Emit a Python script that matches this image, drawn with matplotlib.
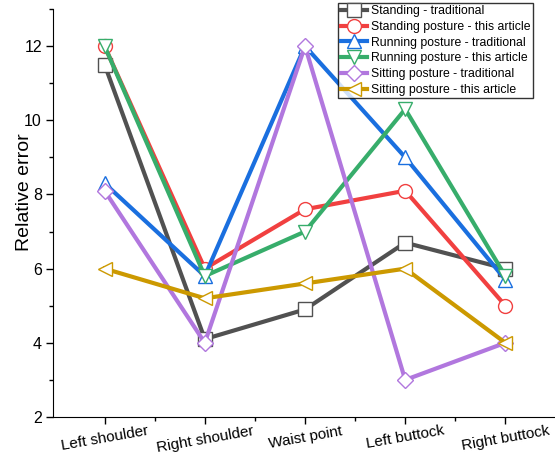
import matplotlib
matplotlib.use("Agg")
import matplotlib.pyplot as plt
from matplotlib.ticker import MultipleLocator, FixedLocator

plt.rcParams['font.family'] = ['Liberation Sans', 'DejaVu Sans']

categories = ["Left shoulder", "Right shoulder", "Waist point", "Left buttock", "Right buttock"]

standing_trad = [11.5, 4.1, 4.9, 6.7, 6.0]
standing_new = [12.0, 6.0, 7.6, 8.1, 5.0]
running_trad = [8.3, 5.8, 12.0, 9.0, 5.7]
running_new = [12.0, 5.8, 7.0, 10.3, 5.8]
sitting_trad = [8.1, 4.0, 12.0, 3.0, 4.0]
sitting_new = [6.0, 5.2, 5.6, 6.0, 4.0]

series = [
    ("Standing - traditional", standing_trad, "#515151", "s"),
    ("Standing posture - this article", standing_new, "#F14040", "o"),
    ("Running posture - traditional", running_trad, "#1A6FDF", "^"),
    ("Running posture - this article", running_new, "#37AD6B", "v"),
    ("Sitting posture - traditional", sitting_trad, "#B177DE", "D"),
    ("Sitting posture - this article", sitting_new, "#CC9900", "<"),
]

fig = plt.figure(figsize=(5.55, 4.54), dpi=100)
ax = fig.add_axes([53 / 555, 1 - 417 / 454, 502 / 555, 408 / 454])

x = list(range(len(categories)))
for name, vals, col, mk in series:
    ms = 8 if mk == "D" else 10
    ax.plot(x, vals, color=col, lw=3, marker=mk, markersize=ms,
            markerfacecolor="white", markeredgecolor=col, markeredgewidth=1,
            label=name)

ax.set_xlim(-0.515, 4.495)
ax.set_ylim(2, 13)
ax.set_xticks(x)
ax.set_xticklabels(categories, rotation=10, fontsize=11)
ax.xaxis.set_minor_locator(FixedLocator([i + 0.5 for i in x]))
ax.yaxis.set_major_locator(MultipleLocator(2))
ax.yaxis.set_minor_locator(MultipleLocator(1))
ax.tick_params(axis='y', labelsize=11.5, pad=3)
ax.tick_params(axis='x', pad=0)
ax.tick_params(which='both', direction='out', width=1)
ax.tick_params(which='major', length=5)
ax.tick_params(which='minor', length=3)
ax.set_ylabel("Relative error", fontsize=14)
ax.yaxis.set_label_coords(-0.04, 0.55)
for s in ["top", "right"]:
    ax.spines[s].set_visible(False)

leg = fig.legend(loc="upper right", bbox_to_anchor=(533 / 555, 1 - 3 / 454),
                 fontsize=8.8, frameon=True, fancybox=False, edgecolor="black",
                 handlelength=2.2, borderpad=0.2, labelspacing=0.3,
                 handletextpad=0.3, borderaxespad=0)
leg.get_frame().set_linewidth(1)

fig.savefig("out.png", dpi=100)
